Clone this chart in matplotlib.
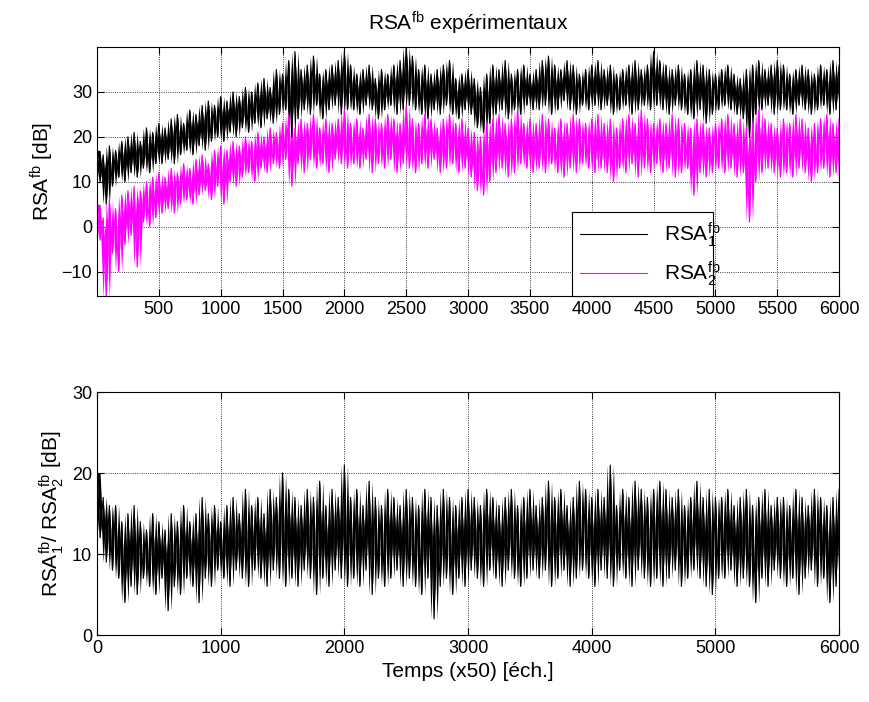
import numpy as np
import matplotlib
matplotlib.use("Agg")
import matplotlib.pyplot as plt

plt.rcParams['font.family'] = ['Liberation Sans', 'DejaVu Sans']
plt.rcParams['mathtext.fontset'] = 'custom'
plt.rcParams['mathtext.rm'] = 'Liberation Sans'
plt.rcParams['mathtext.it'] = 'Liberation Sans:italic'

# sample index of each envelope point (every 50 samples)
t_env = np.arange(0, 6001, 50)

# RSA1 upper / lower envelope [dB]
rsa1_hi = [17, 16, 18, 17, 19, 20, 21, 19, 22, 21, 23,
           22, 24, 25, 23, 26, 25, 27, 28, 27, 29,
           28, 30, 29, 31, 30, 32, 33, 31, 35, 34,
           37, 39, 35, 36, 38, 34, 35, 36, 37, 39,
           36, 34, 35, 36, 33, 35, 34, 36, 37, 40,
           38, 35, 36, 34, 35, 36, 37, 33, 34, 35,
           33, 31, 34, 36, 35, 37, 34, 35, 36, 34,
           35, 37, 38, 36, 35, 37, 36, 34, 35, 36,
           37, 35, 36, 34, 35, 36, 37, 35, 36, 39,
           37, 36, 35, 36, 34, 35, 37, 36, 35, 34,
           35, 36, 34, 33, 35, 36, 37, 35, 36, 37,
           36, 34, 35, 36, 35, 34, 36, 35, 37, 36]
rsa1_lo = [10, 5, 9, 11, 10, 12, 11, 13, 12, 14, 14,
           15, 14, 16, 17, 16, 18, 17, 19, 20, 19,
           21, 20, 22, 21, 23, 22, 24, 23, 25, 26,
           20, 24, 26, 25, 27, 24, 26, 27, 25, 26,
           26, 25, 27, 26, 24, 26, 27, 25, 26, 27,
           26, 25, 24, 26, 25, 27, 25, 24, 26, 25,
           22, 21, 23, 25, 26, 24, 26, 25, 27, 26,
           26, 27, 25, 26, 28, 26, 25, 27, 26, 27,
           26, 27, 25, 26, 27, 25, 26, 27, 26, 27,
           26, 25, 27, 26, 25, 24, 26, 23, 25, 26,
           27, 26, 25, 24, 20, 25, 26, 27, 25, 26,
           26, 25, 27, 26, 25, 26, 27, 25, 26, 27]

# RSA2 upper / lower envelope [dB]
rsa2_hi = [5, 2, 6, 4, 7, 8, 9, 8, 10, 11, 12,
           11, 13, 12, 14, 13, 15, 16, 14, 17, 18,
           17, 19, 18, 20, 19, 21, 20, 22, 21, 23,
           25, 22, 24, 23, 25, 22, 24, 23, 24, 26,
           23, 24, 22, 25, 24, 23, 25, 24, 23, 27,
           24, 23, 25, 24, 22, 24, 25, 23, 24, 22,
           21, 20, 23, 24, 25, 23, 24, 26, 23, 24,
           23, 25, 24, 22, 24, 23, 25, 24, 23, 24,
           25, 23, 24, 22, 24, 25, 23, 26, 24, 23,
           24, 23, 25, 24, 23, 22, 24, 23, 22, 23,
           24, 25, 23, 24, 22, 23, 26, 24, 23, 22,
           24, 23, 25, 24, 22, 23, 24, 25, 23, 24]
rsa2_lo = [-3, -16, -6, -10, -4, -2, -9, 1, 0, 2, 3,
           4, 3, 5, 6, 5, 7, 8, 6, 9, 5,
           10, 9, 11, 12, 10, 13, 12, 14, 13, 15,
           9, 14, 12, 15, 13, 14, 12, 15, 14, 13,
           14, 13, 15, 12, 14, 13, 15, 12, 14, 13,
           12, 14, 13, 15, 12, 13, 14, 12, 13, 11,
           8, 7, 10, 12, 13, 11, 12, 14, 13, 12,
           13, 12, 14, 12, 11, 13, 12, 14, 13, 12,
           13, 12, 10, 13, 12, 14, 11, 13, 12, 14,
           12, 13, 11, 12, 13, 7, 12, 11, 12, 13,
           12, 13, 11, 12, 1, 10, 12, 13, 12, 11,
           12, 11, 13, 12, 10, 12, 13, 11, 12, 7]

# RSA1 / RSA2 upper / lower envelope [dB]
ratio_hi = [20, 17, 16, 16, 14, 15, 16, 14, 13, 15, 14,
            13, 15, 14, 16, 14, 15, 17, 15, 16, 14,
            16, 17, 15, 18, 16, 17, 15, 18, 17, 20,
            18, 17, 16, 18, 17, 19, 16, 18, 17, 21,
            17, 18, 16, 19, 17, 16, 18, 17, 16, 18,
            17, 16, 18, 17, 16, 18, 17, 16, 17, 18,
            17, 16, 18, 17, 16, 17, 18, 16, 17, 18,
            16, 17, 19, 17, 18, 16, 17, 19, 18, 17,
            18, 17, 21, 16, 18, 17, 19, 18, 17, 18,
            19, 18, 17, 18, 16, 17, 19, 17, 18, 17,
            17, 18, 16, 17, 18, 16, 17, 18, 16, 17,
            17, 16, 18, 17, 16, 18, 17, 16, 17, 18]
ratio_lo = [12, 9, 8, 7, 4, 6, 5, 7, 6, 5, 7,
            3, 6, 5, 7, 6, 4, 7, 6, 8, 7,
            6, 8, 7, 6, 8, 7, 6, 8, 7, 6,
            7, 6, 8, 7, 5, 7, 6, 8, 7, 6,
            7, 6, 8, 5, 7, 6, 7, 8, 6, 7,
            6, 5, 7, 2, 6, 7, 5, 7, 6, 8,
            7, 6, 8, 7, 6, 8, 7, 6, 7, 8,
            7, 8, 6, 7, 8, 6, 7, 8, 7, 6,
            8, 7, 6, 8, 7, 6, 8, 7, 6, 7,
            6, 7, 8, 6, 7, 8, 7, 6, 5, 7,
            7, 8, 6, 7, 6, 4, 7, 6, 8, 7,
            6, 7, 5, 7, 8, 6, 7, 4, 6, 7]


def noisy(ax, hi, lo, color, label=None):
    # zigzag between the envelopes, lower points half a step later
    x = np.empty(2 * len(t_env))
    y = np.empty(2 * len(t_env))
    x[0::2] = t_env
    x[1::2] = t_env + 25
    y[0::2] = hi
    y[1::2] = lo
    prev = np.r_[y[0], y[:-1]]
    nxt = np.r_[y[1:], y[-1]]
    ax.fill_between(x, y, prev, color=color, lw=0)
    ax.fill_between(x, y, nxt, color=color, lw=0)
    ax.plot(x, y, color=color, lw=0.8, label=label)


fig = plt.figure(figsize=(8.69, 7.02), dpi=100)
ax1 = fig.add_axes([0.1116, 0.578, 0.854, 0.355])
ax2 = fig.add_axes([0.1116, 0.0954, 0.854, 0.346])

noisy(ax1, rsa1_hi, rsa1_lo, 'black', r'RSA$_1^{\rm fb}$')
noisy(ax1, rsa2_hi, rsa2_lo, '#ff00ff', r'RSA$_2^{\rm fb}$')
ax1.set_xlim(0, 6000)
ax1.set_ylim(-15.5, 40)
ax1.set_xticks(np.arange(500, 6001, 500))
ax1.set_yticks([-10, 0, 10, 20, 30])
ax1.set_yticklabels(['\u221210', '0', '10', '20', '30'])
ax1.set_ylabel(r'RSA$^{\rm fb}$ [dB]', fontsize=15)
ax1.set_title(r'RSA$^{\rm fb}$ expérimentaux', fontsize=15, pad=12)
leg = ax1.legend(loc='lower left', bbox_to_anchor=(0.64, 0.0, 0.19, 0.40),
                 mode='expand', fontsize=15, handlelength=3.2, fancybox=False,
                 edgecolor='black', framealpha=1, borderaxespad=0)
leg.get_frame().set_linewidth(0.8)

noisy(ax2, ratio_hi, ratio_lo, 'black')
ax2.set_xlim(0, 6000)
ax2.set_ylim(0, 30)
ax2.set_xticks(np.arange(0, 6001, 1000))
ax2.set_yticks([0, 10, 20, 30])
ax2.set_ylabel(r'RSA$_1^{\rm fb}$/ RSA$_2^{\rm fb}$ [dB]', fontsize=15)
ax2.set_xlabel('Temps (x50) [éch.]', fontsize=15)

for ax in (ax1, ax2):
    ax.grid(True, linestyle=':', color='black', lw=0.6)
    ax.set_axisbelow(True)
    ax.tick_params(direction='in', top=True, right=True, labelsize=13, length=5)
    for s in ax.spines.values():
        s.set_linewidth(0.8)

fig.savefig('out.png', dpi=100)
